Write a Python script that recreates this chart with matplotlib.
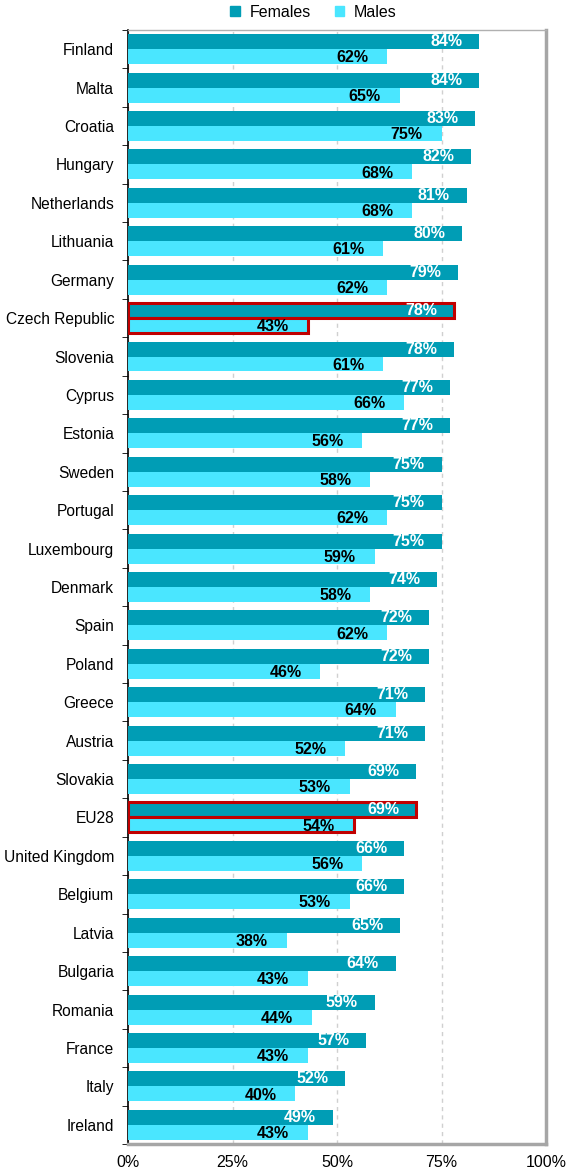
import matplotlib.pyplot as plt
import numpy as np

plt.rcParams['font.family'] = ['Liberation Sans', 'DejaVu Sans']

countries = ['Finland', 'Malta', 'Croatia', 'Hungary', 'Netherlands', 'Lithuania',
             'Germany', 'Czech Republic', 'Slovenia', 'Cyprus', 'Estonia', 'Sweden',
             'Portugal', 'Luxembourg', 'Denmark', 'Spain', 'Poland', 'Greece',
             'Austria', 'Slovakia', 'EU28', 'United Kingdom', 'Belgium', 'Latvia',
             'Bulgaria', 'Romania', 'France', 'Italy', 'Ireland']
females = [84, 84, 83, 82, 81, 80, 79, 78, 78, 77, 77, 75, 75, 75, 74, 72, 72, 71,
           71, 69, 69, 66, 66, 65, 64, 59, 57, 52, 49]
males = [62, 65, 75, 68, 68, 61, 62, 43, 61, 66, 56, 58, 62, 59, 58, 62, 46, 64,
         52, 53, 54, 56, 53, 38, 43, 44, 43, 40, 43]
highlight = ['Czech Republic', 'EU28']

female_color = '#009db5'
male_color = '#4ae6ff'

fig = plt.figure(figsize=(5.7, 11.72), dpi=100)
ax = fig.add_axes([0.2246, 0.0239, 0.7334, 0.9505])

y = np.arange(len(countries))
h = 0.39
for i, c in enumerate(countries):
    hl = c in highlight
    ec = '#c00000' if hl else 'none'
    lw = 2.2 if hl else 0
    ax.barh(y[i] - h / 2, females[i], height=h, color=female_color,
            edgecolor=ec, linewidth=lw, zorder=3)
    ax.barh(y[i] + h / 2, males[i], height=h, color=male_color,
            edgecolor=ec, linewidth=lw, zorder=3)
    ax.text(females[i] - 4, y[i] - h / 2, f'{females[i]}%', color='white',
            fontsize=11.5, fontweight='bold', ha='right', va='center', zorder=4)
    ax.text(males[i] - 4.5, y[i] + h / 2 + 0.03, f'{males[i]}%', color='black',
            fontsize=11.5, fontweight='bold', ha='right', va='center', zorder=4)

ax.set_xlim(0, 100)
ax.set_ylim(len(countries) - 0.5, -0.5)
ax.set_xticks([0, 25, 50, 75, 100])
ax.set_xticklabels(['0%', '25%', '50%', '75%', '100%'], fontsize=11.5)
ax.set_yticks(y)
ax.set_yticklabels(countries, fontsize=11.2)
ax.set_yticks(np.arange(len(countries) + 1) - 0.5, minor=True)
ax.tick_params(axis='y', which='major', length=0, pad=10)
ax.tick_params(axis='y', which='minor', length=4, direction='out', color='black')
ax.tick_params(axis='x', length=0, pad=8)

ax.grid(axis='x', color='#d0d0d0', linestyle=(0, (3, 3)), linewidth=1, zorder=0)

ax.spines['left'].set_color('black')
ax.spines['left'].set_linewidth(1.2)
ax.spines['top'].set_color('#b0b0b0')
ax.spines['top'].set_linewidth(1)
for s in ['right', 'bottom']:
    ax.spines[s].set_color('#a6a6a6')
    ax.spines[s].set_linewidth(2.5)

handles = [plt.Rectangle((0, 0), 1, 1, color=female_color),
           plt.Rectangle((0, 0), 1, 1, color=male_color)]
fig.legend(handles, ['Females', 'Males'], loc='upper center', ncol=2,
           bbox_to_anchor=(0.55, 1.008), frameon=False, fontsize=11.5,
           handlelength=0.6, handleheight=0.6, columnspacing=1.5, handletextpad=0.6)

fig.savefig('out.png', dpi=100)
